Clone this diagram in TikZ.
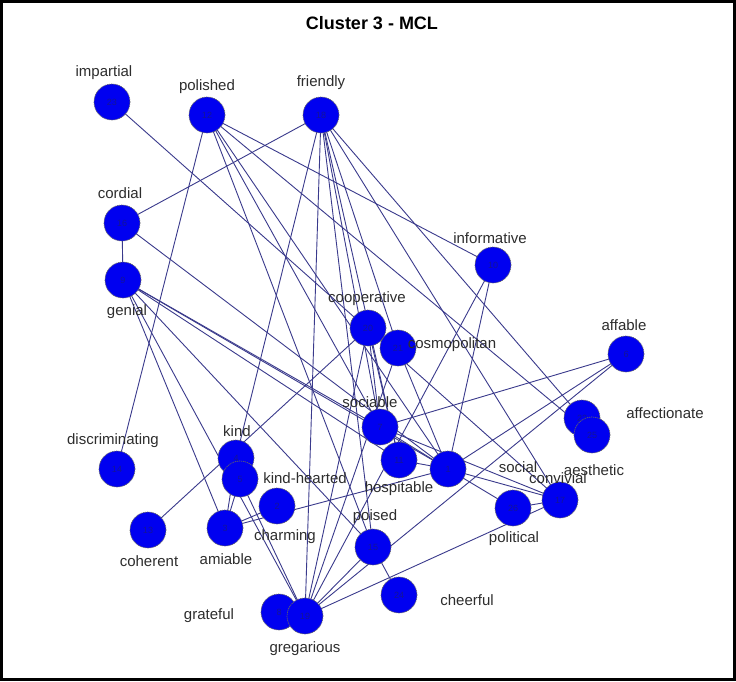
\documentclass[tikz,border=0pt]{standalone}
\usepackage{fontspec}
\setmainfont{Liberation Sans}
\definecolor{edgecol}{RGB}{58,58,140}
\definecolor{fillblue}{RGB}{0,0,240}
\definecolor{numcol}{RGB}{20,20,150}
\definecolor{labcol}{RGB}{45,45,45}
\pgfdeclarelayer{canvas}
\pgfdeclarelayer{bg}
\pgfsetlayers{canvas,bg,main}
\begin{document}
\begin{tikzpicture}[x=1pt,y=-1pt,
  vertex/.style={circle,fill=fillblue,draw=black!60,dash pattern=on 1.2pt off 0.8pt,
    line width=0.7pt,minimum size=36pt,inner sep=0pt,
    font=\fontsize{9}{9}\selectfont,text=numcol},
  tag/.style={font=\fontsize{15}{15}\selectfont,text=labcol,inner sep=0pt},
  link/.style={draw=edgecol,line width=0.9pt}]

% canvas and frame
\useasboundingbox (0,0) rectangle (736,681);
\begin{pgfonlayer}{canvas}
\fill[white] (0,0) rectangle (736,681);
\end{pgfonlayer}
\draw[line width=3pt] (1.5,1.5) rectangle (734.5,679.5);

\node[font=\bfseries\fontsize{18}{18}\selectfont] (title) at (372,23) {Cluster 3 - MCL};

% vertices
\node[vertex] (imp) at (112,102) {23};
\node[vertex] (pol) at (207,115) {12};
\node[vertex] (fri) at (321,115) {18};
\node[vertex] (cor) at (122,223) {16};
\node[vertex] (gen) at (123,280) {9};
\node[vertex] (inf) at (493,265) {10};
\node[vertex] (coo) at (368,328) {20};
\node[vertex] (cos) at (398,348) {21};
\node[vertex] (aff) at (626,354) {6};
\node[vertex] (afc) at (582,418) {22};
\node[vertex] (aes) at (592,435) {25};
\node[vertex] (soc) at (380,427) {7};
\node[vertex] (dis) at (117,469) {14};
\node[vertex] (kin) at (236,458) {4};
\node[vertex] (kh)  at (240,479) {5};
\node[vertex] (hos) at (399,460) {11};
\node[vertex] (sol) at (448,469) {1};
\node[vertex] (pli) at (513,508) {26};
\node[vertex] (con) at (560,500) {17};
\node[vertex] (cha) at (277,506) {2};
\node[vertex] (ami) at (225,528) {3};
\node[vertex] (coh) at (148,530) {13};
\node[vertex] (poi) at (373,547) {15};
\node[vertex] (che) at (399,595) {24};
\node[vertex] (gra) at (279,612) {8};
\node[vertex] (gre) at (305,616) {19};

% vertex labels
\node[tag] (timp) at (104,73) {impartial};
\node[tag] (tpol) at (207,87) {polished};
\node[tag] (tfri) at (321,83) {friendly};
\node[tag] (tcor) at (120,193) {cordial};
\node[tag] (tgen) at (127,312) {genial};
\node[tag] (tinf) at (490,238) {informative};
\node[tag] (tcoo) at (367,299) {cooperative};
\node[tag] (tcos) at (452,345) {cosmopolitan};
\node[tag] (taff) at (624,325) {affable};
\node[tag] (tafc) at (665,413) {affectionate};
\node[tag] (taes) at (594,470) {aesthetic};
\node[tag] (tsoc) at (370,402) {sociable};
\node[tag] (tdis) at (113,441) {discriminating};
\node[tag] (tkin) at (237,431) {kind};
\node[tag] (tkh)  at (305,478) {kind-hearted};
\node[tag] (thos) at (399,489) {hospitable};
\node[tag] (tsol) at (518,467) {social};
\node[tag] (tcon) at (558,478) {convivial};
\node[tag] (tpli) at (514,539) {political};
\node[tag] (tcha) at (285,537) {charming};
\node[tag] (tami) at (226,559) {amiable};
\node[tag] (tcoh) at (149,561) {coherent};
\node[tag] (tpoi) at (375,517) {poised};
\node[tag] (tche) at (467,600) {cheerful};
\node[tag] (tgra) at (209,616) {grateful};
\node[tag] (tgre) at (305,649) {gregarious};

% edges, kept beneath the vertices
\begin{pgfonlayer}{bg}
\foreach \a/\b in {imp/con,
  pol/dis, pol/poi, pol/soc, pol/sol, pol/aes, pol/inf,
  fri/cor, fri/kin, fri/gre, fri/poi, fri/cos, fri/soc, fri/hos, fri/afc, fri/con,
  cor/gen, cor/sol,
  gen/soc, gen/sol, gen/hos, gen/ami, gen/gre, gen/poi,
  coo/soc, coo/hos, coo/coh, coo/gre,
  cos/gre, cos/sol,
  inf/gre, inf/sol,
  aff/soc, aff/sol, aff/gre,
  kin/ami, kh/ami, kh/gre,
  ami/cha, ami/sol,
  soc/sol, soc/con,
  sol/hos, sol/pli, sol/con,
  pli/con,
  poi/che, poi/gre,
  gre/con}
  \draw[link] (\a.center) -- (\b.center);
\end{pgfonlayer}
\end{tikzpicture}
\end{document}
